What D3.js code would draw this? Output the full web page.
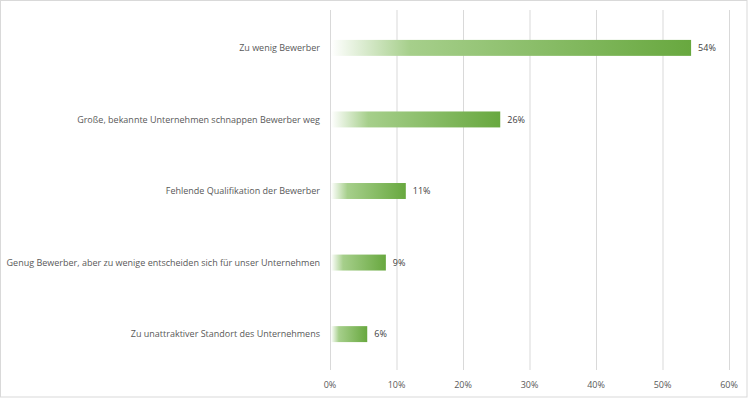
<!DOCTYPE html>
<html>
<head>
<meta charset="utf-8">
<script src="https://cdn.jsdelivr.net/npm/d3@7"></script>
<style>
  body { margin: 0; background: #fff; }
  text { font-family: "Open Sans", sans-serif; }
</style>
</head>
<body>
<svg id="chart"></svg>
<script>
// data
const categories = [
  "Zu wenig Bewerber",
  "Große, bekannte Unternehmen schnappen Bewerber weg",
  "Fehlende Qualifikation der Bewerber",
  "Genug Bewerber, aber zu wenige entscheiden sich für unser Unternehmen",
  "Zu unattraktiver Standort des Unternehmens"
];
const values = [54.3, 25.6, 11.4, 8.4, 5.6];
const valueLabels = ["54%", "26%", "11%", "9%", "6%"];
const xTicks = [0, 10, 20, 30, 40, 50, 60];

const width = 750;
const height = 398;
const margin = { top: 12, right: 21, bottom: 28, left: 330 };
const chartWidth = width - margin.left - margin.right;
const chartHeight = height - margin.top - margin.bottom;

const svg = d3.select("#chart")
  .attr("width", width)
  .attr("height", height);

// outer border
svg.append("rect")
  .attr("x", 0.5).attr("y", 0.5)
  .attr("width", 746.5).attr("height", 396.5)
  .attr("fill", "#fff")
  .attr("stroke", "#d9d9d9");

const defs = svg.append("defs");
const grad = defs.append("linearGradient")
  .attr("id", "barGrad")
  .attr("x1", "0").attr("x2", "1").attr("y1", "0").attr("y2", "0");
grad.append("stop").attr("offset", "0").attr("stop-color", "#ffffff");
grad.append("stop").attr("offset", "0.22").attr("stop-color", "#a6cf8b");
grad.append("stop").attr("offset", "1").attr("stop-color", "#68a83f");

const g = svg.append("g")
  .attr("transform", `translate(${margin.left},${margin.top})`);

const x = d3.scaleLinear()
  .domain([0, 60])
  .range([0, chartWidth]);

const y = d3.scaleBand()
  .domain(categories)
  .range([0, chartHeight])
  .paddingInner(0.777)
  .paddingOuter(0.39);

// gridlines
g.selectAll(".grid")
  .data(xTicks)
  .enter()
  .append("line")
  .attr("class", "grid")
  .attr("x1", d => x(d) + 0.5)
  .attr("x2", d => x(d) + 0.5)
  .attr("y1", -2)
  .attr("y2", chartHeight)
  .attr("stroke", "#d9d9d9")
  .attr("stroke-width", 1);

// x axis labels
g.selectAll(".xlabel")
  .data(xTicks)
  .enter()
  .append("text")
  .attr("class", "xlabel")
  .attr("x", d => x(d))
  .attr("y", chartHeight + 18)
  .attr("text-anchor", "middle")
  .attr("font-size", "9px")
  .attr("fill", "#595959")
  .text(d => d + "%");

// category labels
g.selectAll(".cat")
  .data(categories)
  .enter()
  .append("text")
  .attr("class", "cat")
  .attr("x", -10)
  .attr("y", d => y(d) + y.bandwidth() / 2)
  .attr("dy", "0.35em")
  .attr("text-anchor", "end")
  .attr("font-size", "9px")
  .attr("fill", "#595959")
  .text(d => d);

// bars
g.selectAll(".bar")
  .data(values)
  .enter()
  .append("rect")
  .attr("class", "bar")
  .attr("x", x(0) + 1)
  .attr("y", (d, i) => y(categories[i]))
  .attr("width", d => x(d) - x(0) - 1)
  .attr("height", y.bandwidth())
  .attr("fill", "url(#barGrad)");

// value labels
g.selectAll(".val")
  .data(values)
  .enter()
  .append("text")
  .attr("class", "val")
  .attr("x", d => x(d) + 7)
  .attr("y", (d, i) => y(categories[i]) + y.bandwidth() / 2)
  .attr("dy", "0.35em")
  .attr("font-size", "9px")
  .attr("fill", "#404040")
  .text((d, i) => valueLabels[i]);
</script>
</body>
</html>
